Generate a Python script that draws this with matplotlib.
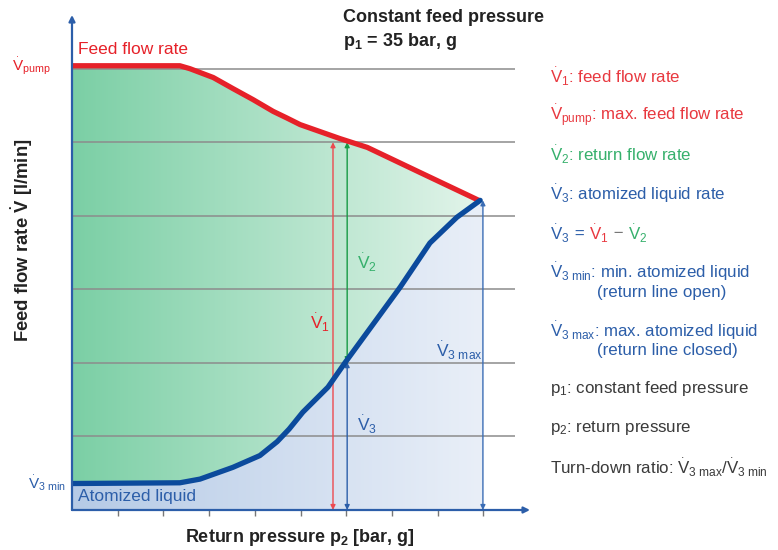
import numpy as np
import matplotlib
matplotlib.use("Agg")
import matplotlib.pyplot as plt
from matplotlib.colors import LinearSegmentedColormap
from matplotlib.patches import Polygon

plt.rcParams['font.family'] = ['Liberation Sans', 'DejaVu Sans']
plt.rcParams['mathtext.fontset'] = 'custom'
plt.rcParams['mathtext.rm'] = 'Liberation Sans'
plt.rcParams['mathtext.it'] = 'Liberation Sans:italic'
plt.rcParams['mathtext.bf'] = 'Liberation Sans:bold'

# ---- data ----
feed_x = [0, 2.36, 2.58, 3.09, 3.52, 3.96, 4.40, 4.70, 4.99, 5.86, 6.46, 7.61, 8.90]
feed_y = [6.04, 6.04, 6.00, 5.88, 5.73, 5.58, 5.42, 5.33, 5.24, 5.05, 4.93, 4.59, 4.21]
atom_x = [0, 2.36, 2.80, 3.52, 4.11, 4.49, 4.75, 5.05, 5.60, 5.97, 7.18, 7.83, 8.42, 8.93]
atom_y = [0.36, 0.37, 0.42, 0.58, 0.74, 0.93, 1.10, 1.33, 1.67, 2.00, 3.03, 3.63, 3.98, 4.21]
grid_levels = [1, 2, 3, 4, 5, 6]
x_ticks = [1, 2, 3, 4, 5, 6, 7, 8, 9]
v1_x, v1_top = 5.71, 5.0
v23_x, v2_bottom = 6.02, 2.01
v3max_x, v3max_top = 8.99, 4.21

RED = '#e62129'
LRED = '#e8383f'
GREEN = '#36b06c'
DGREEN = '#169a45'
BLUE = '#2c5ea9'
DBLUE = '#0b4a9c'
GRAY = '#3a3a3a'

W, H = 778, 550
fig = plt.figure(figsize=(W / 100, H / 100), dpi=100)
ax = fig.add_axes([72 / W, 40 / H, (530 - 72) / W, (510 - 15) / H])
ax.set_xlim(0, 10.02)
ax.set_ylim(0, 6.73)
for s in ax.spines.values():
    s.set_visible(False)
ax.set_yticks([])
ax.set_xticks(x_ticks)
ax.set_xticklabels([])
ax.tick_params(axis='x', direction='out', length=4, width=1, color='#777777')

# gradient fills
grad = np.linspace(0, 1, 256).reshape(1, -1)
gcmap = LinearSegmentedColormap.from_list('g', ['#7bcfa5', '#e2f4ea'])
bcmap = LinearSegmentedColormap.from_list('b', ['#b5cae6', '#e9eff8'])

green_poly = list(zip(feed_x, feed_y)) + list(zip(atom_x[::-1], atom_y[::-1]))
gp = Polygon(green_poly, closed=True, facecolor='none', edgecolor='none')
ax.add_patch(gp)
im = ax.imshow(grad, cmap=gcmap, extent=[0, feed_x[-1], 0, 6.1], aspect='auto', zorder=1)
im.set_clip_path(gp)

blue_poly = list(zip(atom_x, atom_y)) + [(v3max_x, atom_y[-1]), (v3max_x, 0), (0, 0)]
bp = Polygon(blue_poly, closed=True, facecolor='none', edgecolor='none')
ax.add_patch(bp)
im2 = ax.imshow(grad, cmap=bcmap, extent=[0, v3max_x, 0, 4.3], aspect='auto', zorder=1)
im2.set_clip_path(bp)

# grid lines
ax.hlines(grid_levels, 0, 9.69, color='#8c8c8c', lw=1.1, zorder=2)

# curves
ax.plot(feed_x, feed_y, color=RED, lw=3.8, solid_capstyle='round', solid_joinstyle='round', zorder=5)
ax.plot(atom_x, atom_y, color=DBLUE, lw=3.8, solid_capstyle='round', solid_joinstyle='round', zorder=5)

# axes arrows
ax.annotate('', xy=(0, 6.73), xytext=(0, 0),
            arrowprops=dict(arrowstyle='-|>', color=BLUE, lw=1.6, mutation_scale=9, shrinkA=0, shrinkB=0),
            annotation_clip=False, zorder=6)
ax.annotate('', xy=(10.02, 0), xytext=(0, 0),
            arrowprops=dict(arrowstyle='-|>', color=BLUE, lw=1.6, mutation_scale=9, shrinkA=0, shrinkB=0),
            annotation_clip=False, zorder=6)

# dimension arrows
def darrow(x, y0, y1, color):
    ax.annotate('', xy=(x, y1), xytext=(x, y0),
                arrowprops=dict(arrowstyle='<|-|>', color=color, lw=1.0, mutation_scale=7,
                                shrinkA=0, shrinkB=0), zorder=4)

darrow(v1_x, 0, v1_top, '#ec4a50')
darrow(v23_x, v2_bottom, v1_top, DGREEN)
darrow(v23_x, 0, v2_bottom, BLUE)
darrow(v3max_x, 0, v3max_top, '#3b6db5')

def ftxt(x, y, s, **kw):
    return fig.text(x / W, 1 - y / H, s, **kw)

def Vs(sub):
    return r'$\overset{.}{\mathrm{V}}_{\mathrm{' + sub + r'}}$'

FS = 12.2
# in-chart labels
ftxt(78, 50, 'Feed flow rate', color=RED, fontsize=12.5, va='center')
ftxt(12, 66, Vs('pump'), color=RED, fontsize=11, va='center')
ftxt(28, 483, Vs(r'3\ min'), color=BLUE, fontsize=11, va='center')
ftxt(78, 496, 'Atomized liquid', color=BLUE, fontsize=12.5, va='center')
ftxt(310, 322, Vs('1'), color=RED, fontsize=12.5, va='center')
ftxt(357, 262, Vs('2'), color=GREEN, fontsize=12.5, va='center')
ftxt(357, 424, Vs('3'), color=BLUE, fontsize=12.5, va='center')
ftxt(436, 350, Vs(r'3\ max'), color=BLUE, fontsize=12.5, va='center')

# title
ftxt(343, 18, 'Constant feed pressure', fontsize=13, fontweight='bold', color='#222222', va='center')
ftxt(343, 42, r'p$_{\mathbf{1}}$ = 35 bar, g', fontsize=13, fontweight='bold', color='#222222', va='center')

# axis labels
ftxt(300, 538, r'Return pressure p$_{\mathbf{2}}$ [bar, g]', fontsize=13, fontweight='bold',
     color='#222222', ha='center', va='center')
ftxt(22, 240, r'Feed flow rate $\overset{\mathbf{.}}{\mathbf{V}}$ [l/min]', fontsize=13.3, fontweight='bold',
     color='#222222', ha='center', va='center', rotation=90)

# right-side legend
renderer = fig.canvas.get_renderer()
def pieces(x, y, parts, fs=FS):
    cx = x
    for s, c in parts:
        t = ftxt(cx, y, s, color=c, fontsize=fs, va='center')
        bb = t.get_window_extent(renderer)
        cx += bb.width

lx = 550
ftxt(lx, 76, Vs('1') + ': feed flow rate', color=LRED, fontsize=FS, va='center')
ftxt(lx, 115, Vs('pump') + ': max. feed flow rate', color=LRED, fontsize=FS, va='center')
ftxt(lx, 154, Vs('2') + ': return flow rate', color=GREEN, fontsize=FS, va='center')
ftxt(lx, 193, Vs('3') + ': atomized liquid rate', color=BLUE, fontsize=FS, va='center')
pieces(lx, 233, [(Vs('3'), BLUE), (' = ', BLUE), (Vs('1'), LRED), (' \u2212 ', '#777777'), (Vs('2'), GREEN)])
ftxt(lx, 271, Vs(r'3\ min') + ': min. atomized liquid', color=BLUE, fontsize=FS, va='center')
ftxt(597, 292, '(return line open)', color=BLUE, fontsize=FS, va='center')
ftxt(lx, 330, Vs(r'3\ max') + ': max. atomized liquid', color=BLUE, fontsize=FS, va='center')
ftxt(597, 350, '(return line closed)', color=BLUE, fontsize=FS, va='center')
ftxt(lx, 389, r'p$_{\mathrm{1}}$: constant feed pressure', color=GRAY, fontsize=FS, va='center')
ftxt(lx, 428, r'p$_{\mathrm{2}}$: return pressure', color=GRAY, fontsize=FS, va='center')
ftxt(lx, 467, 'Turn-down ratio: ' + Vs(r'3\ max') + '/' + Vs(r'3\ min'), color=GRAY, fontsize=FS, va='center')

fig.savefig('out.png', dpi=100)
